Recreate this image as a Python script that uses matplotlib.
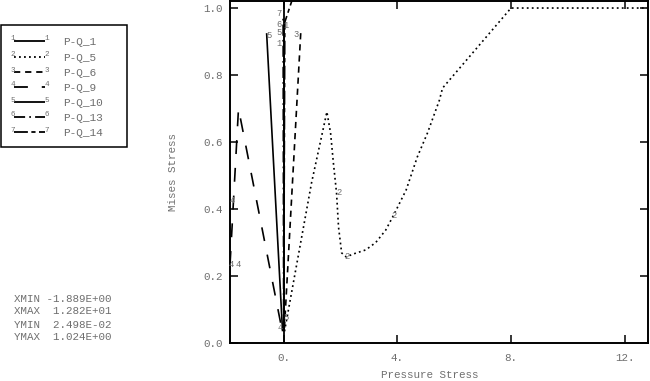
#!/usr/bin/python
# Mises vs pressure stress, P-Q paths (old X-Y plot look)

import matplotlib
matplotlib.use("Agg")
import matplotlib.pyplot as plt
from matplotlib.patches import Rectangle

plt.rcParams.update({'font.family': ['Liberation Mono', 'DejaVu Sans Mono'],
                     'font.size': 8,
                     'lines.scale_dashes': False})

GREY = "#6e6e6e"

##########
# Curves #
##########
curve_names = ["P-Q_1", "P-Q_5", "P-Q_6", "P-Q_9", "P-Q_10", "P-Q_13", "P-Q_14"]

p_q1_x = [0.0, 0.0]
p_q1_y = [0.035, 0.95]

p_q5_x = [0.03, 0.98, 1.52, 1.65, 1.75, 1.86, 1.93, 2.04, 2.20, 2.46, 2.89, 3.24, 3.59, 3.87,
          4.31, 4.70, 5.06, 5.48, 5.59, 8.0, 12.82]
p_q5_y = [0.035, 0.478, 0.69, 0.627, 0.537, 0.448, 0.346, 0.269, 0.257, 0.266, 0.278, 0.30, 0.337, 0.382,
          0.457, 0.555, 0.627, 0.725, 0.761, 1.0, 1.0]

p_q6_x = [0.60, 0.02]
p_q6_y = [0.925, 0.035]

p_q9_x = [-1.889, -1.59, -0.05]
p_q9_y = [0.233, 0.70, 0.035]

p_q10_x = [-0.60, -0.04]
p_q10_y = [0.925, 0.035]

p_q13_x = [0.0, -0.02]
p_q13_y = [0.035, 0.97]

p_q14_x = [0.0, 0.04, 0.32]
p_q14_y = [0.04, 0.958, 1.03]

# curve number tags along the curves
tag_text = ["1", "1", "2", "2", "2", "3", "4", "4", "4", "5", "5", "6", "7", "4", "5"]
tag_x = [-0.18, 0.10, 1.94, 2.23, 3.89, 0.42, -1.82, -1.86, -1.59, -0.53, -0.18, -0.18, -0.18, -0.12, 0.08]
tag_y = [0.895, 0.949, 0.448, 0.257, 0.38, 0.92, 0.425, 0.233, 0.233, 0.918, 0.928, 0.952, 0.985, 0.045, 0.075]

# axis limits as printed in the summary block
x_min, x_max = -1.889, 12.82
y_min_txt, y_max_txt = 2.498e-02, 1.024e+00

x_ticks = [0, 4, 8, 12]
x_tick_labels = ["0.", "4.", "8.", "12."]
y_ticks = [0.0, 0.2, 0.4, 0.6, 0.8, 1.0]

styles = [
    (0, ()),                     # 1 solid
    (0, (1.3, 2.3)),             # 2 dotted
    (0, (4.5, 3.5)),             # 3 dashed
    (0, (10, 10)),               # 4 long dash
    (0, ()),                     # 5 solid
    (0, (8, 3, 1.2, 3)),         # 6 dash-dot
    (0, (10, 2.5, 3, 2.5)),      # 7 long-short
]
curves_x = [p_q1_x, p_q5_x, p_q6_x, p_q9_x, p_q10_x, p_q13_x, p_q14_x]
curves_y = [p_q1_y, p_q5_y, p_q6_y, p_q9_y, p_q10_y, p_q13_y, p_q14_y]

W, H = 650, 381
fig = plt.figure(figsize=(W / 100, H / 100), dpi=100)

# overlay in pixel coords for the legend box and the summary text
ov = fig.add_axes([0, 0, 1, 1])
ov.set_xlim(0, W)
ov.set_ylim(H, 0)
ov.axis("off")

ov.add_patch(Rectangle((1, 25), 126, 122, fill=False, lw=1.1, ec="black"))
row_y = [41, 57, 72, 87, 102, 117, 132]
for i, name in enumerate(curve_names):
    y = row_y[i]
    ov.plot([14, 45], [y, y], color="black", lw=1.3, linestyle=styles[i])
    ov.text(13, y - 2, str(i + 1), color=GREY, fontsize=5.5, ha="center", va="center")
    ov.text(47, y - 2, str(i + 1), color=GREY, fontsize=5.5, ha="center", va="center")
    ov.text(63, y + 1, name, color=GREY, fontsize=8, ha="left", va="center")

summary = ["XMIN %10.3E" % x_min, "XMAX %10.3E" % x_max,
           "YMIN %10.3E" % y_min_txt, "YMAX %10.3E" % y_max_txt]
for txt, y in zip(summary, [299, 311, 325, 337]):
    ov.text(14, y, txt, color=GREY, fontsize=7.8, ha="left", va="center")

#############
# Main plot #
#############
x0, x1, yb, yt = 230, 648, 343, 1
ax = fig.add_axes([x0 / W, 1 - yb / H, (x1 - x0) / W, (yb - yt) / H])
ax.set_xlim(x_min, x_max)
ax.set_ylim(0, 1.021)

ax.axvline(0, color="black", lw=1.3)
for i in range(len(curves_x)):
    ax.plot(curves_x[i], curves_y[i], color="black", lw=1.2, linestyle=styles[i],
            clip_on=True)
for t, x, y in zip(tag_text, tag_x, tag_y):
    ax.text(x, y, t, color=GREY, fontsize=6.3, ha="center", va="center")

ax.set_xticks(x_ticks)
ax.set_xticklabels(x_tick_labels)
ax.set_yticks(y_ticks)
ax.set_yticklabels(["%.1f" % v for v in y_ticks])
ax.tick_params(direction="in", length=5.8, width=1.1, top=True, right=True,
               labelcolor=GREY, labelsize=7.8, pad=5)
ax.tick_params(axis="x", pad=7)
for s in ax.spines.values():
    s.set_linewidth(1.4)

ax.set_xlabel("Pressure Stress", color=GREY, fontsize=7.8)
ax.set_ylabel("Mises Stress", color=GREY, fontsize=7.8)
ax.xaxis.set_label_coords(0.478, -0.078)
ax.yaxis.set_label_coords(-0.125, 0.5)

plt.savefig("out.png", dpi=100)
